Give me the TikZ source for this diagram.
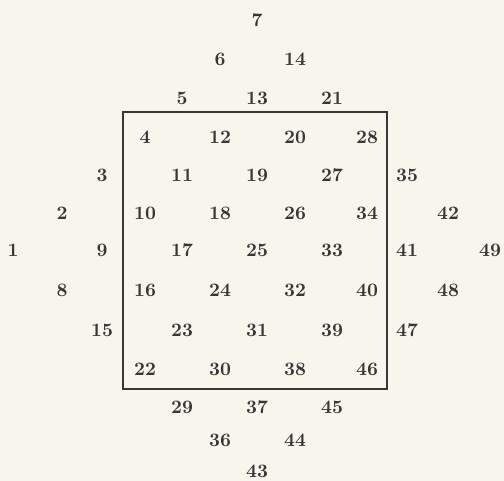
\documentclass[tikz,border=0pt]{standalone}
\usepackage{xcolor}
\usepackage{tikz}
\definecolor{paper}{RGB}{248,246,236}
\definecolor{ink}{RGB}{55,55,55}

\begin{document}
\begin{tikzpicture}[x=0.5pt, y=-0.5pt,
    num/.style={text=ink, font=\fontsize{9.5}{11}\selectfont\bfseries, inner sep=0pt}]
    % paper, also fixes the bounding box
    \fill[paper] (0,0) rectangle (504,481);
    % column and row positions of the diamond
    \def\colx{{13,62,102,145,182,220,257,295,332,367,407,448,490}}
    \def\rowy{{20,59,98,137,175,213,250,290,330,369,407,440,471}}
    % numbers k = 7i + j + 1
    \foreach \i in {0,...,6}{
        \foreach \j in {0,...,6}{
            \pgfmathtruncatemacro{\k}{7*\i+\j+1}
            \pgfmathsetmacro{\xx}{\colx[\i+\j]}
            \pgfmathsetmacro{\yy}{\rowy[\i-\j+6]}
            \node[num] (n\k) at (\xx,\yy) {\k};
        }
    }
    % square frame round the middle
    \coordinate (tl) at (123,112);
    \coordinate (br) at (387,389);
    \draw[ink, line width=0.75pt] (tl) rectangle (br);
\end{tikzpicture}
\end{document}
